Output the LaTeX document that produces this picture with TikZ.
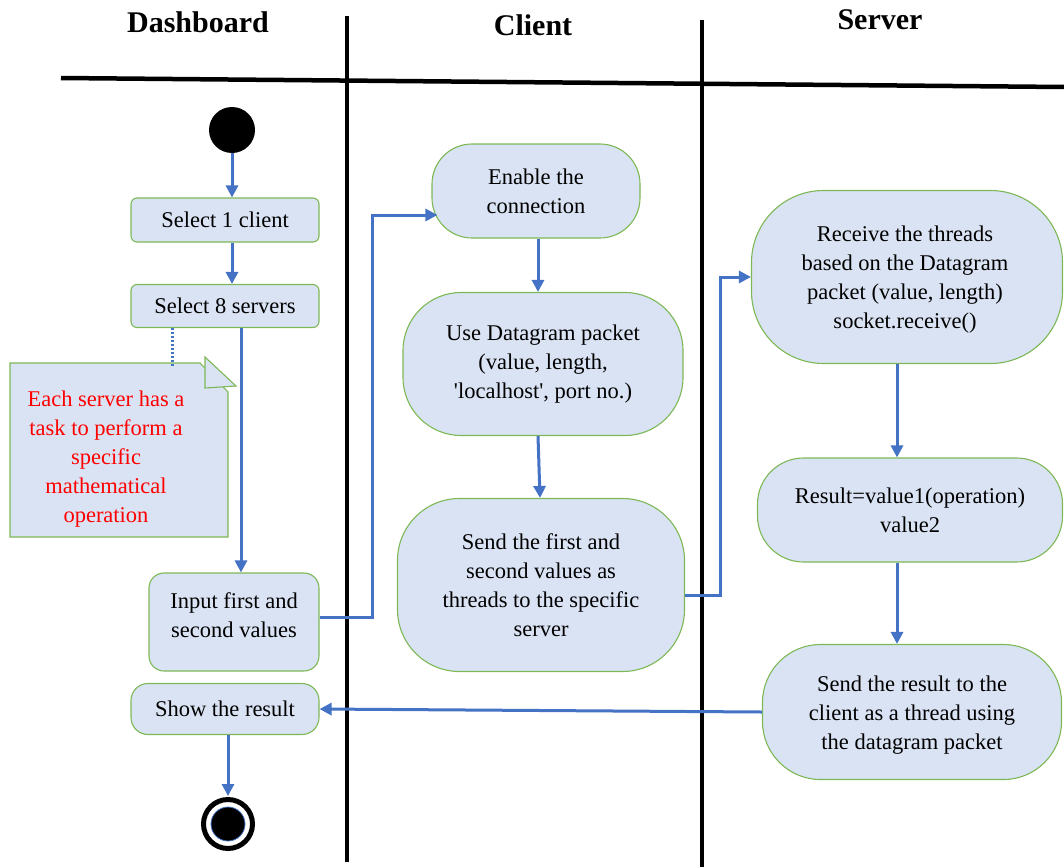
\documentclass[tikz,border=0pt]{standalone}
\usepackage{fontspec}
\setmainfont{Liberation Serif}
\usetikzlibrary{arrows.meta}
\definecolor{actfill}{HTML}{DAE3F3}
\definecolor{actline}{HTML}{7DB856}
\definecolor{flow}{HTML}{4472C4}
\begin{document}
\begin{tikzpicture}[x=1pt,y=-1pt,
  act/.style={draw=actline, line width=1.1pt, fill=actfill, align=center,
    font=\fontsize{22.5}{29}\selectfont, inner sep=0pt},
  acttext/.style={align=center, font=\fontsize{22.5}{29}\selectfont, inner sep=0pt},
  flowarrow/.style={draw=flow, line width=3pt, -{Triangle[length=12pt,width=12pt]}},
  lane/.style={line width=3.5pt},
  lanehead/.style={font=\fontsize{30}{36}\selectfont\bfseries}]
\useasboundingbox (0,0) rectangle (1064,867);

% swimlane frame
\draw[line width=4.5pt] (61,78) -- (1064,87);
\draw[lane] (347,16) -- (347,862);
\draw[lane] (702,20) -- (702,867);
\node[lanehead] (hdash) at (198,22) {Dashboard};
\node[lanehead] (hclient) at (533,25) {Client};
\node[lanehead] (hserver) at (880,20) {Server};

% Dashboard lane
\node[circle, fill=black, minimum size=46pt, inner sep=0pt] (start) at (232,130) {};
\node[act, rounded corners=6pt, minimum width=188pt, minimum height=44pt] (sel1) at (225,220) {Select 1 client};
\node[act, rounded corners=6pt, minimum width=188pt, minimum height=43pt] (sel8) at (225,306) {Select 8 servers};
\node[act, rounded corners=15pt, minimum width=170pt, minimum height=98pt] (input) at (234,622) {};
\node[acttext] (inputtext) at (234,615) {Input first and\\second values};
\node[act, rounded corners=17pt, minimum width=188pt, minimum height=51pt] (show) at (225,709) {Show the result};
\node[circle, draw=black, line width=5pt, minimum size=49pt, inner sep=0pt] (finish) at (228,824) {};
\node[circle, fill=black, draw=flow, line width=0.8pt, minimum size=34pt, inner sep=0pt] (finishcore) at (finish.center) {};

% note attached to the server selection
\draw[actline, line width=1.1pt, fill=actfill] (10,363) -- (200,363) -- (228,392) -- (228,537) -- (10,537) -- cycle;
\draw[actline, line width=1.1pt, fill=actfill] (205,357) -- (236,386) -- (205,388) -- cycle;
\node[align=center, text=red, font=\fontsize{22.5}{29}\selectfont] (note) at (106,459)
  {Each server has a\\task to perform a\\specific\\mathematical\\operation};
\coordinate (notetop) at (172,367);
\draw[flow, line width=3pt, dash pattern=on 2pt off 2pt] (sel8.south -| notetop) -- (notetop);

% Client lane
\node[act, rounded corners=40pt, minimum width=208pt, minimum height=94pt] (enable) at (536,191) {Enable the\\connection};
\node[act, rounded corners=58pt, minimum width=280pt, minimum height=143pt] (use) at (543,364) {Use Datagram packet\\(value, length,\\\textquotesingle localhost\textquotesingle, port no.)};
\node[act, rounded corners=62pt, minimum width=287pt, minimum height=173pt] (send) at (541,585) {Send the first and\\second values as\\threads to the specific\\server};

% Server lane
\node[act, rounded corners=72pt, minimum width=311pt, minimum height=173pt] (receive) at (907,277) {};
\node[acttext] (receivetext) at (905,280) {Receive the threads\\based on the Datagram\\packet (value, length)\\socket.receive()};
\node[act, rounded corners=46pt, minimum width=305pt, minimum height=104pt] (result) at (910,510) {Result=value1(operation)\\value2};
\node[act, rounded corners=58pt, minimum width=299pt, minimum height=135pt] (sendres) at (912,712) {};
\node[acttext] (sendrestext) at (912,715) {Send the result to the\\client as a thread using\\the datagram packet};

% control flow
\draw[flowarrow] (start.south) -- (sel1.north -| start);
\draw[flowarrow] (sel1.south -| start) -- (sel8.north -| start);
\coordinate (dashcol) at (241,0);
\draw[flowarrow] (sel8.south -| dashcol) -- (input.north -| dashcol);
\draw[flowarrow] ([yshift=5pt]input.east) -- ++(53,0) |- ([xshift=6pt,yshift=-24pt]enable.west);
\coordinate (clientcol) at (538,0);
\draw[flowarrow] (enable.south -| clientcol) -- (use.north -| clientcol);
\draw[flowarrow] (use.south -| clientcol) -- ([xshift=2pt]send.north -| clientcol);
\draw[flowarrow] ([yshift=-10pt]send.east) -- ++(35,0) |- (receive.west);
\coordinate (servercol) at (897,0);
\draw[flowarrow] (receive.south -| servercol) -- (result.north -| servercol);
\draw[flowarrow] (result.south -| servercol) -- (sendres.north -| servercol);
\draw[flowarrow] (sendres.west) -- (show.east);
\draw[flowarrow, shorten >=1pt] (show.south -| finish) -- (finish.north);
\end{tikzpicture}
\end{document}
